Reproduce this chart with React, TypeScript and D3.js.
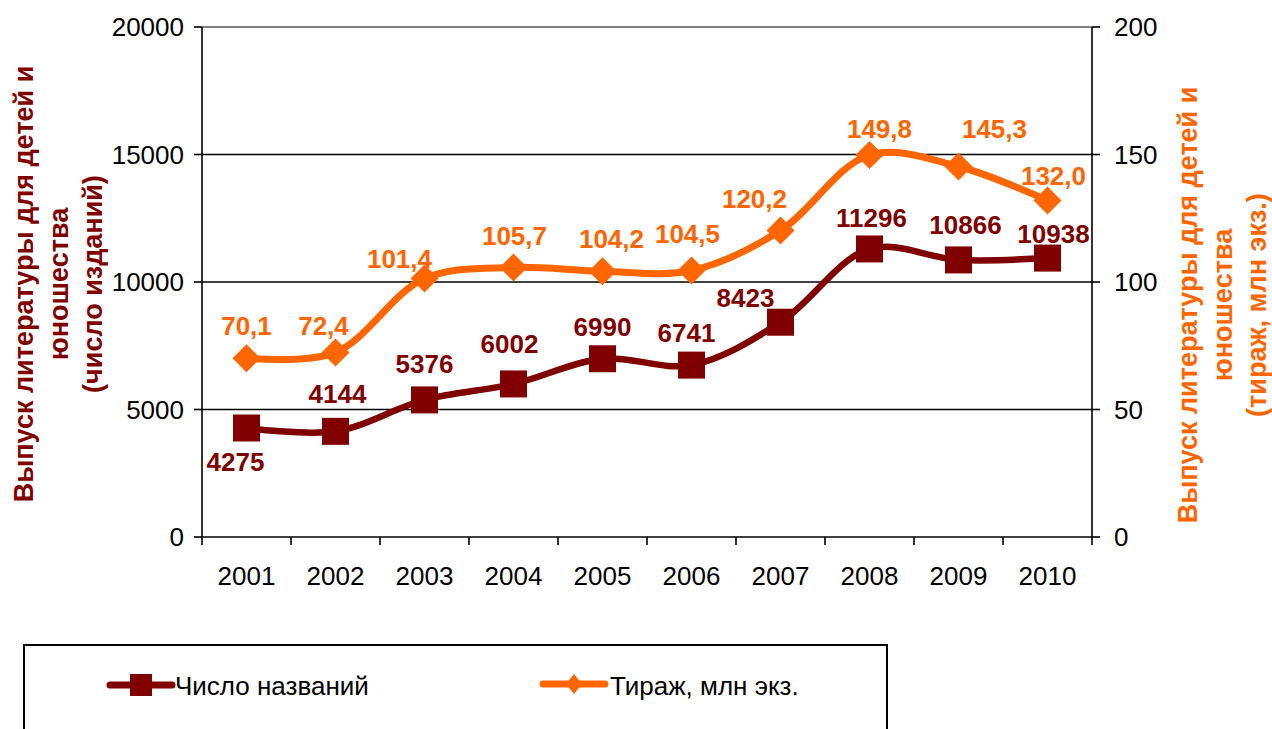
import React from "react";
import * as d3 from "d3";

const years = ["2001", "2002", "2003", "2004", "2005", "2006", "2007", "2008", "2009", "2010"];
const titlesCount = [4275, 4144, 5376, 6002, 6990, 6741, 8423, 11296, 10866, 10938];
const circulation = [70.1, 72.4, 101.4, 105.7, 104.2, 104.5, 120.2, 149.8, 145.3, 132.0];
const leftTicks = [0, 5000, 10000, 15000, 20000];
const rightTicks = [0, 50, 100, 150, 200];
const seriesNames = ["Число названий", "Тираж, млн экз."];
const leftTitle = ["Выпуск литературы для детей и", "юношества", "(число изданий)"];
const rightTitle = ["Выпуск литературы для детей и", "юношества", "(тираж, млн экз.)"];

// label placement offsets (layout only)
const darkLabelOffsets: [number, number][] = [
  [-11, 34], [2, -38], [0, -36], [-4, -40], [0, -32], [-5, -33], [-35, -25], [2, -31], [7, -35], [6, -25],
];
const orangeLabelOffsets: [number, number][] = [
  [0, -33], [-12, -27], [-25, -20], [1, -32], [9, -33], [-4, -37], [-26, -32], [10, -27], [36, -38], [6, -25],
];

const DARK = "#800000";
const ORANGE = "#FF6600";
const FONT = "'Liberation Sans', Arial, sans-serif";

export default function App() {
  const W = 1272, H = 729;
  const x0 = 202, x1 = 1092, yTop = 27, yBot = 537;
  const x = d3.scaleBand<string>().domain(years).range([x0, x1]);
  const bw = x.bandwidth();
  const cx = (d: string) => (x(d) as number) + bw / 2;
  const yL = d3.scaleLinear().domain([0, 20000]).range([yBot, yTop]);
  const yR = d3.scaleLinear().domain([0, 200]).range([yBot, yTop]);
  const fmt = (v: number) => d3.format(".1f")(v).replace(".", ",");

  const darkPts: [number, number][] = years.map((y, i) => [cx(y), yL(titlesCount[i])]);
  const orangePts: [number, number][] = years.map((y, i) => [cx(y), yR(circulation[i])]);
  const line = d3.line().curve(d3.curveCatmullRom.alpha(0.5));

  const fs = 26;
  const tfs = 27;
  const sq = 27;
  const dm = 14;

  return (
    <svg width={W} height={H} style={{ position: "absolute", left: 0, top: 0, background: "#fff" }} fontFamily={FONT}>
      {/* gridlines */}
      {leftTicks.slice(1, -1).map((t) => (
        <line key={"g" + t} x1={x0} x2={x1} y1={yL(t)} y2={yL(t)} stroke="#000" strokeWidth={1.6} />
      ))}
      <line x1={x0} x2={x1} y1={yL(20000)} y2={yL(20000)} stroke="#808080" strokeWidth={2} />
      {/* left axis */}
      <line x1={x0} x2={x0} y1={yTop} y2={yBot} stroke="#000" strokeWidth={1.6} />
      {leftTicks.map((t) => (
        <g key={"l" + t}>
          <line x1={x0 - 8} x2={x0} y1={yL(t)} y2={yL(t)} stroke="#000" strokeWidth={1.6} />
          <text x={184} y={yL(t) + 9} textAnchor="end" fontSize={fs} fill="#000">{t}</text>
        </g>
      ))}
      {/* right axis */}
      <line x1={x1} x2={x1} y1={yTop} y2={yBot} stroke="#000" strokeWidth={1.6} />
      {rightTicks.map((t) => (
        <g key={"r" + t}>
          <line x1={x1} x2={x1 + 8} y1={yR(t)} y2={yR(t)} stroke="#000" strokeWidth={1.6} />
          <text x={1114} y={yR(t) + 9} textAnchor="start" fontSize={fs} fill="#000">{t}</text>
        </g>
      ))}
      {/* bottom axis */}
      <line x1={x0} x2={x1} y1={yBot} y2={yBot} stroke="#000" strokeWidth={1.6} />
      {[...years.map((y) => x(y) as number), x1].map((p, i) => (
        <line key={"b" + i} x1={p} x2={p} y1={yBot} y2={yBot + 8} stroke="#000" strokeWidth={1.6} />
      ))}
      {years.map((y) => (
        <text key={"t" + y} x={cx(y)} y={585} textAnchor="middle" fontSize={fs} fill="#000">{y}</text>
      ))}

      {/* axis titles */}
      {leftTitle.map((s, i) => (
        <text key={"lt" + i} transform={`translate(${[33, 68, 102][i]},${284}) rotate(-90)`} textAnchor="middle"
          fontSize={tfs} fontWeight="bold" fill={DARK}>{s}</text>
      ))}
      {rightTitle.map((s, i) => (
        <text key={"rt" + i} transform={`translate(${[1197, 1232, 1266][i]},${305}) rotate(-90)`} textAnchor="middle"
          fontSize={tfs} fontWeight="bold" fill={ORANGE}>{s}</text>
      ))}

      {/* series lines */}
      <path d={line(darkPts) || ""} fill="none" stroke={DARK} strokeWidth={6.5} strokeLinejoin="round" />
      <path d={line(orangePts) || ""} fill="none" stroke={ORANGE} strokeWidth={7} strokeLinejoin="round" />
      {darkPts.map(([px, py], i) => (
        <rect key={"s" + i} x={px - sq / 2} y={py - sq / 2} width={sq} height={sq} fill={DARK} />
      ))}
      {orangePts.map(([px, py], i) => (
        <path key={"d" + i} d={`M${px},${py - dm}L${px + dm},${py}L${px},${py + dm}L${px - dm},${py}Z`} fill={ORANGE} />
      ))}

      {/* data labels */}
      {darkPts.map(([px, py], i) => (
        <text key={"dl" + i} x={px + darkLabelOffsets[i][0]} y={py + darkLabelOffsets[i][1] + 9.5} textAnchor="middle"
          fontSize={fs} fontWeight="bold" fill={DARK}>{titlesCount[i]}</text>
      ))}
      {orangePts.map(([px, py], i) => (
        <text key={"ol" + i} x={px + orangeLabelOffsets[i][0]} y={py + orangeLabelOffsets[i][1] + 9.5} textAnchor="middle"
          fontSize={fs} fontWeight="bold" fill={ORANGE}>{fmt(circulation[i])}</text>
      ))}

      {/* legend */}
      <rect x={24} y={645} width={863} height={120} fill="none" stroke="#000" strokeWidth={2} />
      <line x1={110} x2={172} y1={685} y2={685} stroke={DARK} strokeWidth={7} strokeLinecap="round" />
      <rect x={141 - 11} y={685 - 11} width={22} height={22} fill={DARK} />
      <text x={175} y={695} fontSize={fs} fill="#000">{seriesNames[0]}</text>
      <line x1={543} x2={605} y1={684} y2={684} stroke={ORANGE} strokeWidth={7} strokeLinecap="round" />
      <path d={`M574,${684 - 10}L${574 + 8},684L574,${684 + 10}L${574 - 8},684Z`} fill={ORANGE} />
      <text x={610} y={695} fontSize={fs} fill="#000">{seriesNames[1]}</text>
    </svg>
  );
}
